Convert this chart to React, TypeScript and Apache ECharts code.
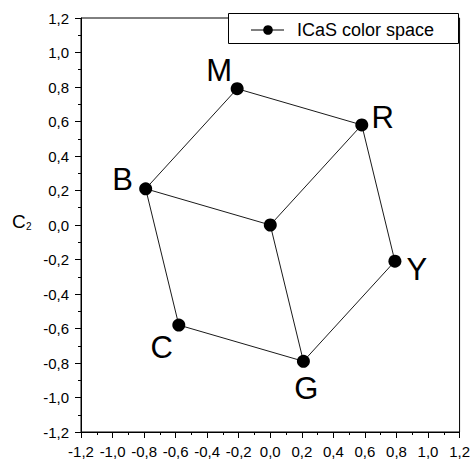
import React, { useEffect, useRef } from "react";
import * as echarts from "echarts";

const pointNames = ["O", "M", "R", "B", "Y", "C", "G"];
const pointLabels = ["", "M", "R", "B", "Y", "C", "G"];
const xValues = [0, -0.21, 0.58, -0.79, 0.79, -0.58, 0.21];
const yValues = [0, 0.79, 0.58, 0.21, -0.21, -0.58, -0.79];
const edges: [string, string][] = [
  ["C", "B"],
  ["B", "M"],
  ["M", "R"],
  ["R", "Y"],
  ["Y", "G"],
  ["G", "C"],
  ["O", "B"],
  ["O", "R"],
  ["O", "G"],
];
const seriesName = "ICaS color space";
const axisMin = -1.2;
const axisMax = 1.2;
const axisStep = 0.2;

// label offsets (styling), px relative to the marker centre
const labelOffsets: Record<string, [number, number]> = {
  O: [0, 0],
  M: [-18, -18],
  R: [21, -7],
  B: [-23, -9],
  Y: [22, 8],
  C: [-17, 22],
  G: [3, 27],
};

const FONT = "Liberation Sans, Arial, sans-serif";
const TICK_FONT_SIZE = 15;

const fmt = (v: number) => {
  if (Math.abs(v) < 1e-9) return "0,0";
  return v.toFixed(1).replace(".", ",");
};

function makeAxis(margin: number) {
  return {
    type: "value",
    min: axisMin,
    max: axisMax,
    interval: axisStep,
    axisLine: { show: true, onZero: false, lineStyle: { color: "#000", width: 1 } },
    axisTick: { show: true, inside: false, length: 6, lineStyle: { color: "#000" } },
    minorTick: { show: true, splitNumber: 2, length: 3, lineStyle: { color: "#000" } },
    splitLine: { show: false },
    minorSplitLine: { show: false },
    axisLabel: {
      show: true,
      color: "#000",
      fontFamily: FONT,
      fontSize: TICK_FONT_SIZE,
      margin,
      formatter: (v: number) => fmt(v),
    },
  };
}

export default function App() {
  const ref = useRef<HTMLDivElement>(null);
  useEffect(() => {
    if (!ref.current) return;
    const chart = echarts.init(ref.current, undefined, { renderer: "svg" });
    const idx = (n: string) => pointNames.indexOf(n);
    const edgeSeries = edges.map(([a, b]) => ({
      type: "line",
      silent: true,
      symbol: "none",
      data: [
        [xValues[idx(a)], yValues[idx(a)]],
        [xValues[idx(b)], yValues[idx(b)]],
      ],
      lineStyle: { color: "#1a1a1a", width: 1 },
      z: 2,
    }));
    chart.setOption({
      animation: false,
      backgroundColor: "#fff",
      textStyle: { fontFamily: FONT, fontSize: TICK_FONT_SIZE, color: "#000" },
      grid: {
        left: 81,
        top: 18,
        width: 381,
        height: 414,
        show: true,
        borderColor: "#000",
        borderWidth: 1,
        backgroundColor: "transparent",
      },
      xAxis: makeAxis(12),
      yAxis: makeAxis(12),
      series: [
        ...edgeSeries,
        {
          type: "scatter",
          name: seriesName,
          symbol: "circle",
          symbolSize: 13,
          itemStyle: { color: "#000", opacity: 1 },
          z: 3,
          data: pointNames.map((n, i) => ({
            name: n,
            value: [xValues[i], yValues[i]],
            label: {
              show: pointLabels[i] !== "",
              formatter: pointLabels[i],
              position: "inside",
              offset: labelOffsets[n],
              color: "#000",
              opacity: 1,
              fontFamily: FONT,
              fontSize: 31,
              align: "center",
              verticalAlign: "middle",
            },
          })),
        },
      ],
      graphic: [
        {
          type: "text",
          left: 12,
          top: 212,
          style: { text: "C", fontSize: 19, fontFamily: FONT, fill: "#000" },
        },
        {
          type: "text",
          left: 26,
          top: 221,
          style: { text: "2", fontSize: 10, fontFamily: FONT, fill: "#000" },
        },
        {
          type: "group",
          z: 100,
          children: [
            {
              type: "rect",
              shape: { x: 228.5, y: 13.5, width: 230, height: 30 },
              style: { fill: "#fff", stroke: "#000", lineWidth: 1 },
              z: 100,
            },
            {
              type: "line",
              shape: { x1: 251, y1: 30, x2: 284, y2: 30 },
              style: { stroke: "#000", lineWidth: 1 },
              z: 101,
            },
            {
              type: "circle",
              shape: { cx: 268, cy: 30, r: 4.8 },
              style: { fill: "#000" },
              z: 102,
            },
            {
              type: "text",
              x: 297,
              y: 30,
              style: {
                text: seriesName,
                fontSize: 18,
                fontFamily: FONT,
                fill: "#000",
                align: "left",
                verticalAlign: "middle",
              },
              z: 102,
            },
          ],
        },
      ],
    });
    return () => chart.dispose();
  }, []);
  return (
    <div
      ref={ref}
      style={{ position: "fixed", left: 0, top: 0, width: 473, height: 459 }}
    />
  );
}
